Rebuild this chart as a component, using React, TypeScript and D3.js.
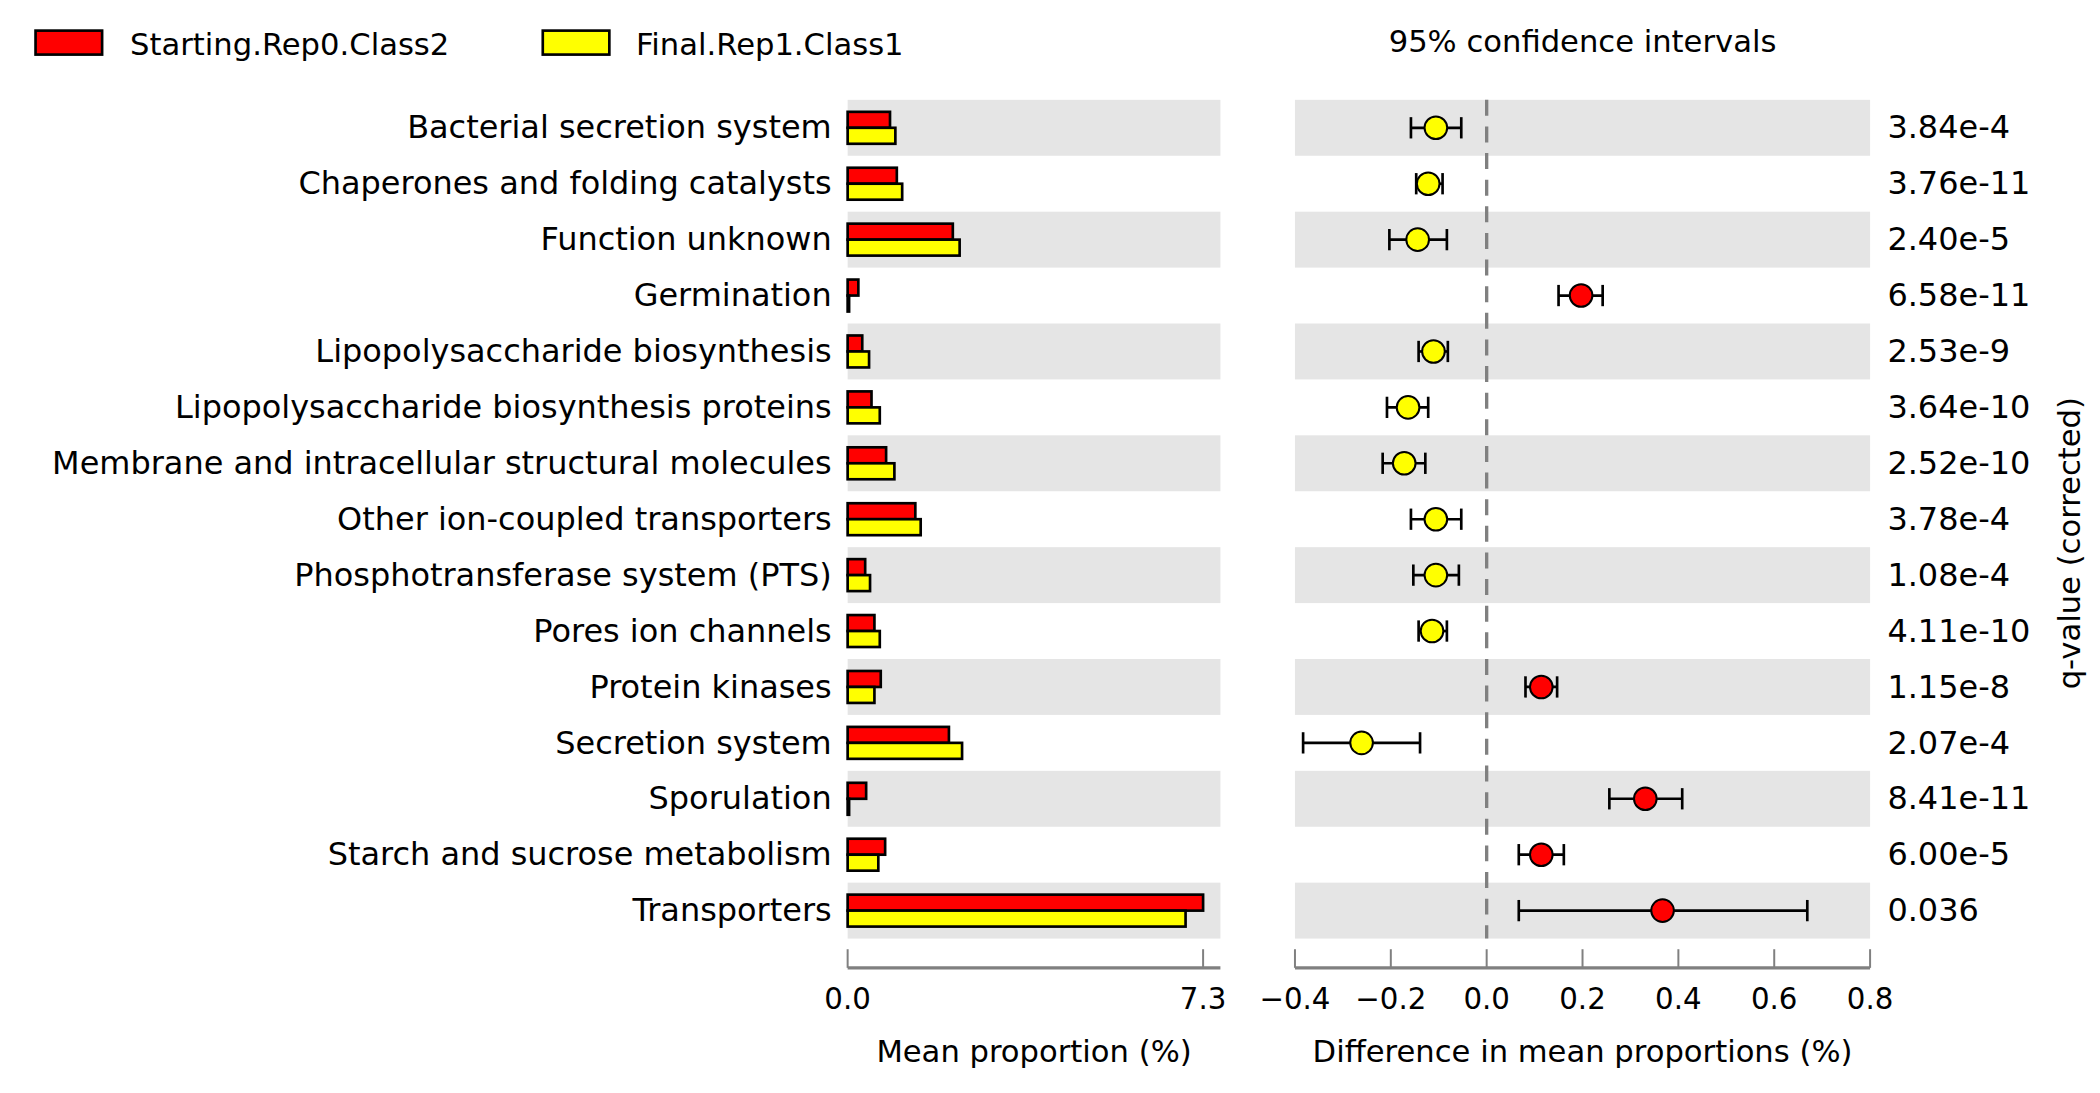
import React from 'react';
import * as d3 from 'd3';

const categories = [
  'Bacterial secretion system', 'Chaperones and folding catalysts', 'Function unknown', 'Germination',
  'Lipopolysaccharide biosynthesis', 'Lipopolysaccharide biosynthesis proteins',
  'Membrane and intracellular structural molecules', 'Other ion-coupled transporters',
  'Phosphotransferase system (PTS)', 'Pores ion channels', 'Protein kinases', 'Secretion system',
  'Sporulation', 'Starch and sucrose metabolism', 'Transporters',
];
const starting = [0.87, 1.01, 2.16, 0.22, 0.3, 0.49, 0.79, 1.39, 0.36, 0.55, 0.68, 2.08, 0.38, 0.77, 7.3];
const final = [0.98, 1.12, 2.3, 0.03, 0.44, 0.66, 0.96, 1.5, 0.46, 0.66, 0.55, 2.35, 0.03, 0.63, 6.94];
const diff = [-0.106, -0.122, -0.144, 0.197, -0.111, -0.164, -0.172, -0.106, -0.106, -0.114, 0.114, -0.261, 0.331, 0.114, 0.367];
const ciLow = [-0.158, -0.147, -0.203, 0.15, -0.142, -0.208, -0.217, -0.158, -0.153, -0.142, 0.081, -0.383, 0.256, 0.067, 0.067];
const ciHigh = [-0.053, -0.092, -0.083, 0.242, -0.081, -0.122, -0.128, -0.053, -0.058, -0.083, 0.147, -0.139, 0.408, 0.161, 0.669];
const qValues = ['3.84e-4', '3.76e-11', '2.40e-5', '6.58e-11', '2.53e-9', '3.64e-10', '2.52e-10', '3.78e-4', '1.08e-4', '4.11e-10', '1.15e-8', '2.07e-4', '8.41e-11', '6.00e-5', '0.036'];
const diffTicks = [-0.4, -0.2, 0, 0.2, 0.4, 0.6, 0.8];

const RED = '#ff0000';
const YEL = '#ffff00';
const GRAY = '#808080';
const font = 'DejaVu Sans';

export default function App() {
  const W = 1568, H = 821;
  const y = d3.scaleBand<number>().domain(d3.range(categories.length)).range([75, 705]);
  const xb = d3.scaleLinear().domain([0, 7.3]).range([632, 899]);
  const xd = d3.scaleLinear().domain([-0.4, 0.8]).range([968, 1400]);
  const bw = y.bandwidth();
  const axisY = 727;
  const fmt = (v: number) => (v < 0 ? '\u2212' : '') + Math.abs(v).toFixed(1);

  return (
    <svg width={2100} height={1093} viewBox={`0 0 ${W} ${H}`}
      style={{ position: 'fixed', left: 0, top: 0, background: '#fff' }} fontFamily={font}>
      {/* legend */}
      <rect x={22} y={23} width={50} height={18} fill={RED} stroke="#000" strokeWidth={2} />
      <text x={93} y={41} fontSize={23}>Starting.Rep0.Class2</text>
      <rect x={403} y={23} width={50} height={18} fill={YEL} stroke="#000" strokeWidth={2} />
      <text x={473} y={41} fontSize={23}>Final.Rep1.Class1</text>
      <text x={1184} y={39} fontSize={23} textAnchor="middle">95% confidence intervals</text>

      {categories.map((c, i) => {
        const y0 = y(i)!;
        const mid = y0 + bw / 2;
        return (
          <g key={c}>
            {i % 2 === 0 && <rect x={632} y={y0} width={280} height={bw} fill="#e5e5e5" />}
            {i % 2 === 0 && <rect x={968} y={y0} width={432} height={bw} fill="#e5e5e5" />}
            <text x={620} y={mid + 8} fontSize={24} textAnchor="end">{c}</text>
            <rect x={xb(0)} y={mid - 12} width={xb(starting[i]) - xb(0)} height={12} fill={RED} stroke="#000" strokeWidth={2} />
            <rect x={xb(0)} y={mid} width={xb(final[i]) - xb(0)} height={12} fill={YEL} stroke="#000" strokeWidth={2} />
            <text x={1413} y={mid + 8} fontSize={24}>{qValues[i]}</text>
          </g>
        );
      })}

      <line x1={xd(0)} x2={xd(0)} y1={75} y2={705} stroke={GRAY} strokeWidth={2.5} strokeDasharray="12,8" />

      {categories.map((c, i) => {
        const mid = y(i)! + bw / 2;
        const col = diff[i] > 0 ? RED : YEL;
        return (
          <g key={'d' + c}>
            <line x1={xd(ciLow[i])} x2={xd(ciHigh[i])} y1={mid} y2={mid} stroke="#000" strokeWidth={2} />
            <line x1={xd(ciLow[i])} x2={xd(ciLow[i])} y1={mid - 8} y2={mid + 8} stroke="#000" strokeWidth={2} />
            <line x1={xd(ciHigh[i])} x2={xd(ciHigh[i])} y1={mid - 8} y2={mid + 8} stroke="#000" strokeWidth={2} />
            <circle cx={xd(diff[i])} cy={mid} r={8.5} fill={col} stroke="#000" strokeWidth={1.5} />
          </g>
        );
      })}

      {/* axes */}
      <line x1={632} x2={912} y1={axisY} y2={axisY} stroke={GRAY} strokeWidth={2.5} />
      {[0, 7.3].map(t => (
        <g key={'b' + t}>
          <line x1={xb(t)} x2={xb(t)} y1={axisY} y2={axisY - 14} stroke={GRAY} strokeWidth={1.5} />
          <text x={xb(t)} y={758} fontSize={22} textAnchor="middle">{t.toFixed(1)}</text>
        </g>
      ))}
      <text x={772} y={798} fontSize={23} textAnchor="middle">Mean proportion (%)</text>

      <line x1={968} x2={1400} y1={axisY} y2={axisY} stroke={GRAY} strokeWidth={2.5} />
      {diffTicks.map(t => (
        <g key={'t' + t}>
          <line x1={xd(t)} x2={xd(t)} y1={axisY} y2={axisY - 14} stroke={GRAY} strokeWidth={1.5} />
          <text x={xd(t)} y={758} fontSize={22} textAnchor="middle">{fmt(t)}</text>
        </g>
      ))}
      <text x={1184} y={798} fontSize={23} textAnchor="middle">Difference in mean proportions (%)</text>

      <text transform="translate(1558,408) rotate(-90)" fontSize={23} textAnchor="middle">q-value (corrected)</text>
    </svg>
  );
}
